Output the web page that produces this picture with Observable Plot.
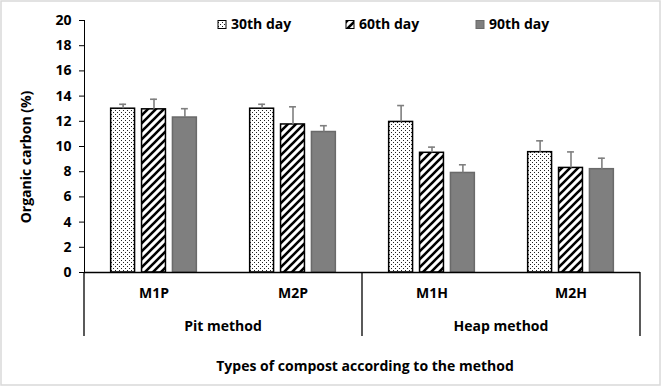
<!DOCTYPE html>
<html><head><meta charset="utf-8">
<script src="https://cdn.jsdelivr.net/npm/d3@7"></script>
<script src="https://cdn.jsdelivr.net/npm/@observablehq/plot@0.6"></script>
<style>body{margin:0;background:#fff}#chart svg{display:block}</style>
</head><body><div id="chart"></div>
<script>
// ---- data ----
const categories = ["M1P", "M2P", "M1H", "M2H"];
const methods = ["Pit method", "Pit method", "Heap method", "Heap method"];
const days = ["30th day", "60th day", "90th day"];
const day30 = [13.0, 13.0, 11.95, 9.55];
const day60 = [12.95, 11.75, 9.5, 8.3];
const day90 = [12.3, 11.15, 7.9, 8.2];
const err30 = [0.35, 0.35, 1.3, 0.9];
const err60 = [0.8, 1.4, 0.45, 1.27];
const err90 = [0.7, 0.5, 0.65, 0.87];
const yTicks = [0, 2, 4, 6, 8, 10, 12, 14, 16, 18, 20];
const yTitle = "Organic carbon (%)";
const xTitle = "Types of compost according to the method";

const values = [day30, day60, day90];
const errs = [err30, err60, err90];
const rows = categories.flatMap((c, i) => days.map((d, j) => ({
  cat: c, method: methods[i], day: d, value: values[j][i], err: errs[j][i]
})));

const fills = ["url(#p-dots)", "url(#p-hatch)", "#7f7f7f"];
const strokes = ["#000", "#000", "#6a6a6a"];
const errColor = "#7f7f7f";

const marks = [];
days.forEach((d, j) => {
  marks.push(Plot.barY(rows, {filter: r => r.day === d, x: "day", y: "value",
    fill: fills[j], stroke: strokes[j], strokeWidth: 1.5}));
});
marks.push(Plot.ruleX(rows, {x: "day", y1: "value", y2: r => r.value + r.err,
  stroke: errColor, strokeWidth: 1.6}));
marks.push(Plot.tickY(rows, {x: "day", y: r => r.value + r.err,
  stroke: errColor, strokeWidth: 1.6, insetLeft: 8.5, insetRight: 8.5}));
marks.push(Plot.ruleY([0], {stroke: "#000", strokeWidth: 1.3}));

const FONT = "'Open Sans', Lato, sans-serif";
const chart = Plot.plot({
  width: 662, height: 387,
  marginLeft: 83, marginRight: 21, marginTop: 20, marginBottom: 115,
  style: {fontFamily: FONT, fontSize: "14px", fontWeight: "bold", color: "#000", background: "#fff", overflow: "visible"},
  facet: {data: rows, x: "cat"},
  fx: {domain: categories, padding: 0, label: null, tickSize: 0, tickPadding: 16, axis: "bottom"},
  x: {domain: days, paddingInner: 0.226, paddingOuter: 0.863, axis: null, round: false},
  y: {domain: [0, 20], ticks: yTicks, tickSize: 5, tickPadding: 8, label: null, line: true},
  marks
});
document.getElementById("chart").appendChild(chart);

// ---- decorations drawn from the plot's scales ----
const svg = d3.select(chart.tagName.toLowerCase() === "svg" ? chart : chart.querySelector("svg"));
const defs = svg.insert("defs", ":first-child");
const dots = defs.append("pattern").attr("id", "p-dots").attr("patternUnits", "userSpaceOnUse").attr("width", 4).attr("height", 4);
dots.append("rect").attr("width", 4).attr("height", 4).attr("fill", "#fff");
dots.append("rect").attr("x", 0).attr("y", 0).attr("width", 1).attr("height", 1).attr("fill", "#222");
dots.append("rect").attr("x", 2).attr("y", 2).attr("width", 1).attr("height", 1).attr("fill", "#222");
const hatch = defs.append("pattern").attr("id", "p-hatch").attr("patternUnits", "userSpaceOnUse").attr("width", 8).attr("height", 8);
hatch.append("rect").attr("width", 8).attr("height", 8).attr("fill", "#fff");
hatch.append("path").attr("d", "M-2,2L2,-2M0,8L8,0M6,10L10,6").attr("stroke", "#000").attr("stroke-width", 2.6);

let fxApply, bw;
try {
  const s = chart.scale("fx");
  bw = s.bandwidth;
  fxApply = s.apply ? (v => s.apply(v)) : d3.scaleBand(s.domain, s.range);
} catch (e) {
  const sb = d3.scaleBand(categories, [83, 641]);
  fxApply = sb; bw = sb.bandwidth();
}
const yS = chart.scale("y");
const y0 = yS.apply ? yS.apply(0) : 272;
const yTop = yS.apply ? yS.apply(20) : 20;

const groups = d3.groups(categories.map((c, i) => ({c, m: methods[i]})), d => d.m);
const g = svg.append("g").attr("fill", "#000").attr("font-size", 14).attr("font-family", FONT).attr("font-weight", "bold");
const bounds = [];
groups.forEach(([m, items]) => {
  const left = d3.min(items, d => fxApply(d.c));
  const right = d3.max(items, d => fxApply(d.c)) + bw;
  bounds.push(left, right);
  g.append("text").attr("x", (left + right) / 2).attr("y", y0 + 54).attr("dy", "0.35em")
    .attr("text-anchor", "middle").text(m);
});
Array.from(new Set(bounds)).forEach(x => {
  g.append("line").attr("x1", x).attr("x2", x).attr("y1", y0).attr("y2", y0 + 64)
    .attr("stroke", "#000").attr("stroke-width", 1.3);
});
const plotL = fxApply(categories[0]);
const plotR = fxApply(categories[categories.length - 1]) + bw;
g.append("text").attr("x", (plotL + plotR) / 2 + 3).attr("y", y0 + 94).attr("dy", "0.35em")
  .attr("text-anchor", "middle").text(xTitle);
g.append("text").attr("transform", `translate(26,${(y0 + yTop) / 2 + 11}) rotate(-90)`)
  .attr("dy", "0.35em").attr("text-anchor", "middle").text(yTitle);

// legend
const leg = svg.append("g").attr("font-size", 14).attr("font-family", FONT).attr("font-weight", "bold").attr("text-anchor", "start");
const legX = [218, 346, 476];
days.forEach((d, j) => {
  leg.append("rect").attr("x", legX[j]).attr("y", 20.5).attr("width", 8).attr("height", 8)
    .attr("fill", fills[j]).attr("stroke", strokes[j]).attr("stroke-width", 1);
  leg.append("text").attr("x", legX[j] + 13).attr("y", 29).text(d);
});

// outer border
svg.append("rect").attr("x", 1).attr("y", 1).attr("width", 659).attr("height", 384)
  .attr("fill", "none").attr("stroke", "#d9d9d9").attr("stroke-width", 1.5);
</script>
</body></html>
